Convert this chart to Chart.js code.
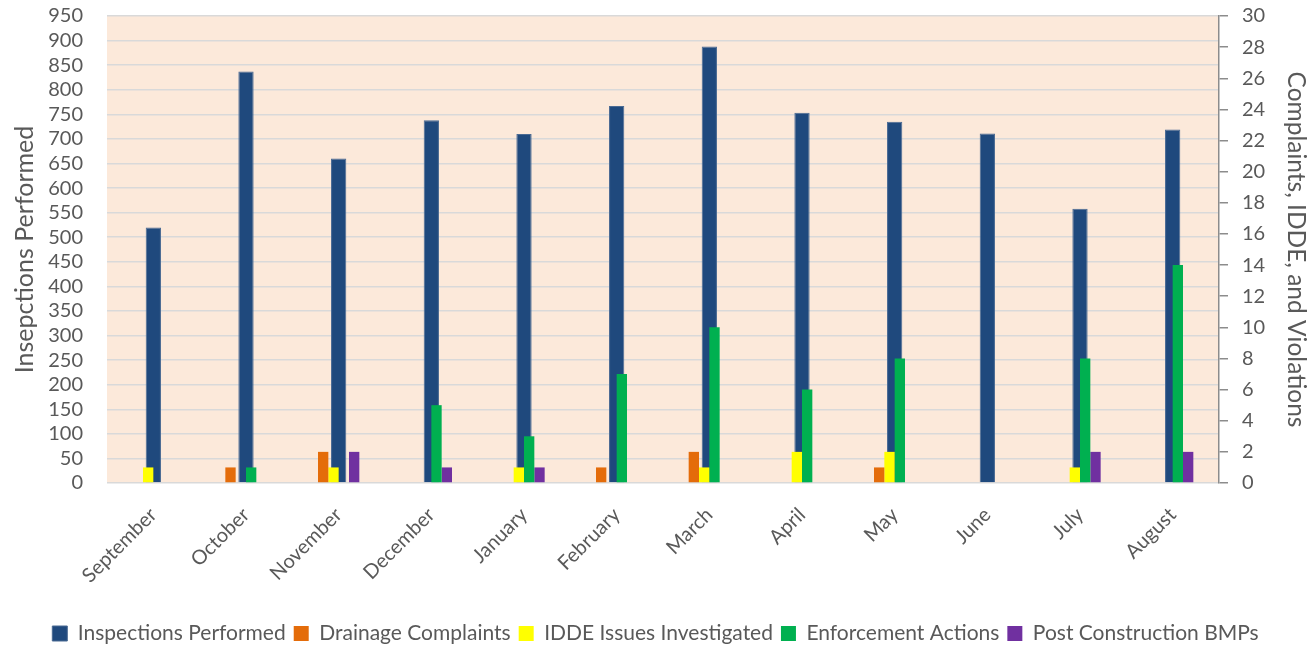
<!DOCTYPE html>
<html><head><meta charset="utf-8">
<script src="https://cdn.jsdelivr.net/npm/chart.js@4"></script>
<style>html,body{margin:0;padding:0;background:#fff}</style>
</head><body>
<canvas id="c" width="1311" height="649"></canvas>
<script>
const months = ["September","October","November","December","January","February","March","April","May","June","July","August"];
const inspections = [520,837,660,738,710,767,888,753,735,711,558,719];
const drainage = [0,1,2,0,0,1,2,0,1,0,0,0];
const idde = [1,0,1,0,1,0,1,2,2,0,1,0];
const enforcement = [0,1,0,5,3,7,10,6,8,0,8,14];
const postBmp = [0,0,2,1,1,0,0,0,0,0,2,2];
const leftMax = 950, leftStep = 50;
const rightMax = 30, rightStep = 2;

const FONT = "Lato";
const TXT = "#595959";

const bgPlugin = {
  id: 'bg',
  beforeDraw(chart) {
    const {ctx, chartArea: a} = chart;
    ctx.save();
    ctx.fillStyle = '#ffffff';
    ctx.fillRect(0, 0, chart.width, chart.height);
    ctx.fillStyle = '#FCE9DA';
    ctx.fillRect(a.left, a.top, a.right - a.left, a.bottom - a.top);
    ctx.restore();
  }
};

const secOpts = {yAxisID: 'y2', categoryPercentage: 0.446, barPercentage: 1, order: 0};

new Chart(document.getElementById('c'), {
  type: 'bar',
  data: {
    labels: months,
    datasets: [
      {label: 'Inspections Performed', data: inspections, backgroundColor: '#1F497D', borderColor: '#4a6a93', borderWidth: 1, yAxisID: 'y', grouped: false, categoryPercentage: 0.165, barPercentage: 1, order: 1},
      Object.assign({label: 'Drainage Complaints', data: drainage, backgroundColor: '#E46C0A'}, secOpts),
      Object.assign({label: 'IDDE Issues Investigated', data: idde, backgroundColor: '#FFFF00'}, secOpts),
      Object.assign({label: 'Enforcement Actions', data: enforcement, backgroundColor: '#00B050'}, secOpts),
      Object.assign({label: 'Post Construction BMPs', data: postBmp, backgroundColor: '#7030A0'}, secOpts)
    ]
  },
  options: {
    responsive: false,
    animation: false,
    devicePixelRatio: 1,
    layout: {padding: {top: 16, left: 0, right: 0, bottom: -5}},
    plugins: {
      tooltip: {enabled: false},
      legend: {
        position: 'bottom',
        labels: {
          font: {family: FONT, size: 21},
          color: TXT,
          boxWidth: 15, boxHeight: 15,
          padding: 8,
          sort: (a, b) => a.datasetIndex - b.datasetIndex
        }
      }
    },
    scales: {
      x: {
        type: 'category',
        offset: true,
        grid: {display: false},
        border: {display: false},
        ticks: {font: {family: FONT, size: 20}, color: TXT, minRotation: 45, maxRotation: 45, padding: 12},
        afterFit: s => { s.height = 132; s.paddingLeft = 0; s.paddingRight = 0; }
      },
      y: {
        position: 'left',
        min: 0, max: leftMax,
        ticks: {stepSize: leftStep, autoSkip: false, maxTicksLimit: 100, font: {family: FONT, size: 20}, color: TXT, padding: 24},
        grid: {color: '#D9D9D9', lineWidth: 1.5, drawTicks: false},
        border: {display: false},
        title: {display: true, text: 'Insepctions Performed', font: {family: FONT, size: 25}, color: TXT, padding: {top: 10, bottom: 0}},
        afterFit: s => { s.width = 107; s.paddingTop = 0; s.paddingBottom = 0; }
      },
      y2: {
        position: 'right',
        min: 0, max: rightMax,
        ticks: {stepSize: rightStep, autoSkip: false, maxTicksLimit: 100, font: {family: FONT, size: 20}, color: TXT, padding: 14},
        grid: {drawOnChartArea: false, color: '#8C8C8C', lineWidth: 1.5, tickLength: 9},
        border: {display: true, color: '#8C8C8C', width: 1.5},
        title: {display: true, text: 'Complaints, IDDE, and Violations', font: {family: FONT, size: 24.5}, color: TXT, padding: {top: 0, bottom: 0}},
        afterFit: s => { s.width = 92; s.paddingTop = 0; s.paddingBottom = 0; }
      }
    }
  },
  plugins: [bgPlugin]
});
</script>
</body></html>
